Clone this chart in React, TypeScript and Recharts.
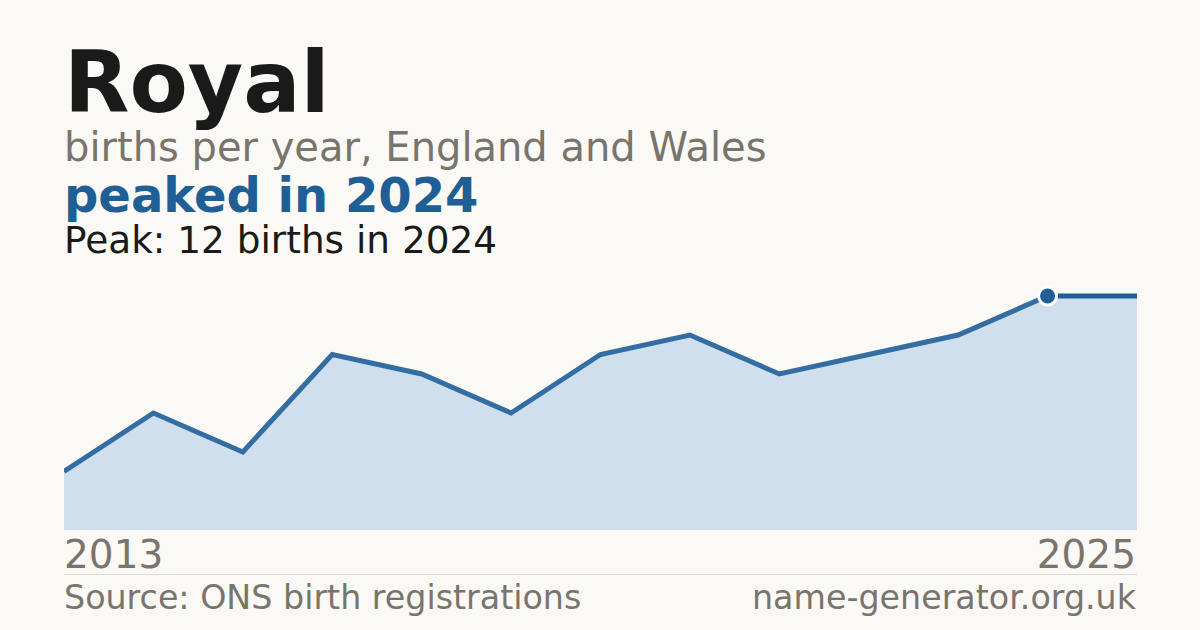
import React from "react";
import { ComposedChart, Area, Line, XAxis, YAxis } from "recharts";

const years = [2013, 2014, 2015, 2016, 2017, 2018, 2019, 2020, 2021, 2022, 2023, 2024, 2025];
const births = [3, 6, 4, 9, 8, 6, 9, 10, 8, 9, 10, 12, 12];
const tickYears = [2013, 2025];
const peakYear = 2024;
const lastYear = 2025;

const data = years.map((y, i) => ({
  year: y,
  area: births[i],
  main: y <= peakYear ? births[i] : null,
  tail: y >= peakYear ? births[i] : null,
}));

const FONT = "'DejaVu Sans', sans-serif";
const GRAY = "#79746c";
const BLUE = "#1f5f96";

const Tick = (props: any) => {
  const { x, y, payload } = props;
  const first = payload.value === tickYears[0];
  return (
    <text
      x={first ? x : x - 1}
      y={y + 30}
      textAnchor={first ? "start" : "end"}
      fill={GRAY}
      fontSize={39}
      fontFamily={FONT}
    >
      {payload.value}
    </text>
  );
};

const PeakDot = (props: any) => {
  const { cx, cy, payload } = props;
  if (!payload || payload.year !== peakYear || cx == null || cy == null) return null;
  return <circle cx={cx} cy={cy} r={9} fill={BLUE} stroke="#ffffff" strokeWidth={3} />;
};

export default function App() {
  return (
    <div
      style={{
        position: "absolute",
        left: 0,
        top: 0,
        width: 1200,
        height: 630,
        background: "#faf9f5",
        overflow: "hidden",
        fontFamily: FONT,
      }}
    >
      <div style={{ position: "absolute", left: 64, top: 41, fontSize: 85, fontWeight: 700, color: "#1a1a1a", lineHeight: "84px", whiteSpace: "nowrap" }}>
        Royal
      </div>
      <div style={{ position: "absolute", left: 64, top: 127, fontSize: 40, color: GRAY, lineHeight: "40px", whiteSpace: "nowrap" }}>
        births per year, England and Wales
      </div>
      <div style={{ position: "absolute", left: 64, top: 172, fontSize: 48, fontWeight: 700, color: BLUE, lineHeight: "46px", whiteSpace: "nowrap" }}>
        peaked in 2024
      </div>
      <div style={{ position: "absolute", left: 64, top: 222, fontSize: 37.4, color: "#1a1a1a", lineHeight: "36px", whiteSpace: "nowrap" }}>
        Peak: 12 births in 2024
      </div>

      <div style={{ position: "absolute", left: 64, top: 276 }}>
        <ComposedChart width={1073} height={320} data={data} margin={{ top: 20, right: 0, bottom: 0, left: 0 }}>
          <XAxis
            dataKey="year"
            type="number"
            domain={[years[0], lastYear]}
            ticks={tickYears}
            tick={<Tick />}
            tickLine={false}
            axisLine={false}
            height={66}
            interval={0}
          />
          <YAxis hide domain={[0, 12]} />
          <Area dataKey="area" type="linear" stroke="none" fill="#cfdfee" fillOpacity={1} isAnimationActive={false} />
          <Line dataKey="main" type="linear" stroke="#336da2" strokeWidth={5} dot={false} isAnimationActive={false} connectNulls={false} />
          <Line dataKey="tail" type="linear" stroke={BLUE} strokeWidth={5} dot={false} isAnimationActive={false} connectNulls={false} />
          <Line dataKey="main" type="linear" stroke="none" dot={<PeakDot />} activeDot={false} isAnimationActive={false} legendType="none" />
        </ComposedChart>
      </div>

      <div style={{ position: "absolute", left: 64, top: 574, width: 1073, height: 1, background: "#dcd9d2" }} />
      <div style={{ position: "absolute", left: 64, top: 579, fontSize: 33.3, color: GRAY, lineHeight: "38px", whiteSpace: "nowrap" }}>
        Source: ONS birth registrations
      </div>
      <div style={{ position: "absolute", right: 64, top: 579, fontSize: 33.3, color: GRAY, lineHeight: "38px", whiteSpace: "nowrap", textAlign: "right" }}>
        name-generator.org.uk
      </div>
    </div>
  );
}
